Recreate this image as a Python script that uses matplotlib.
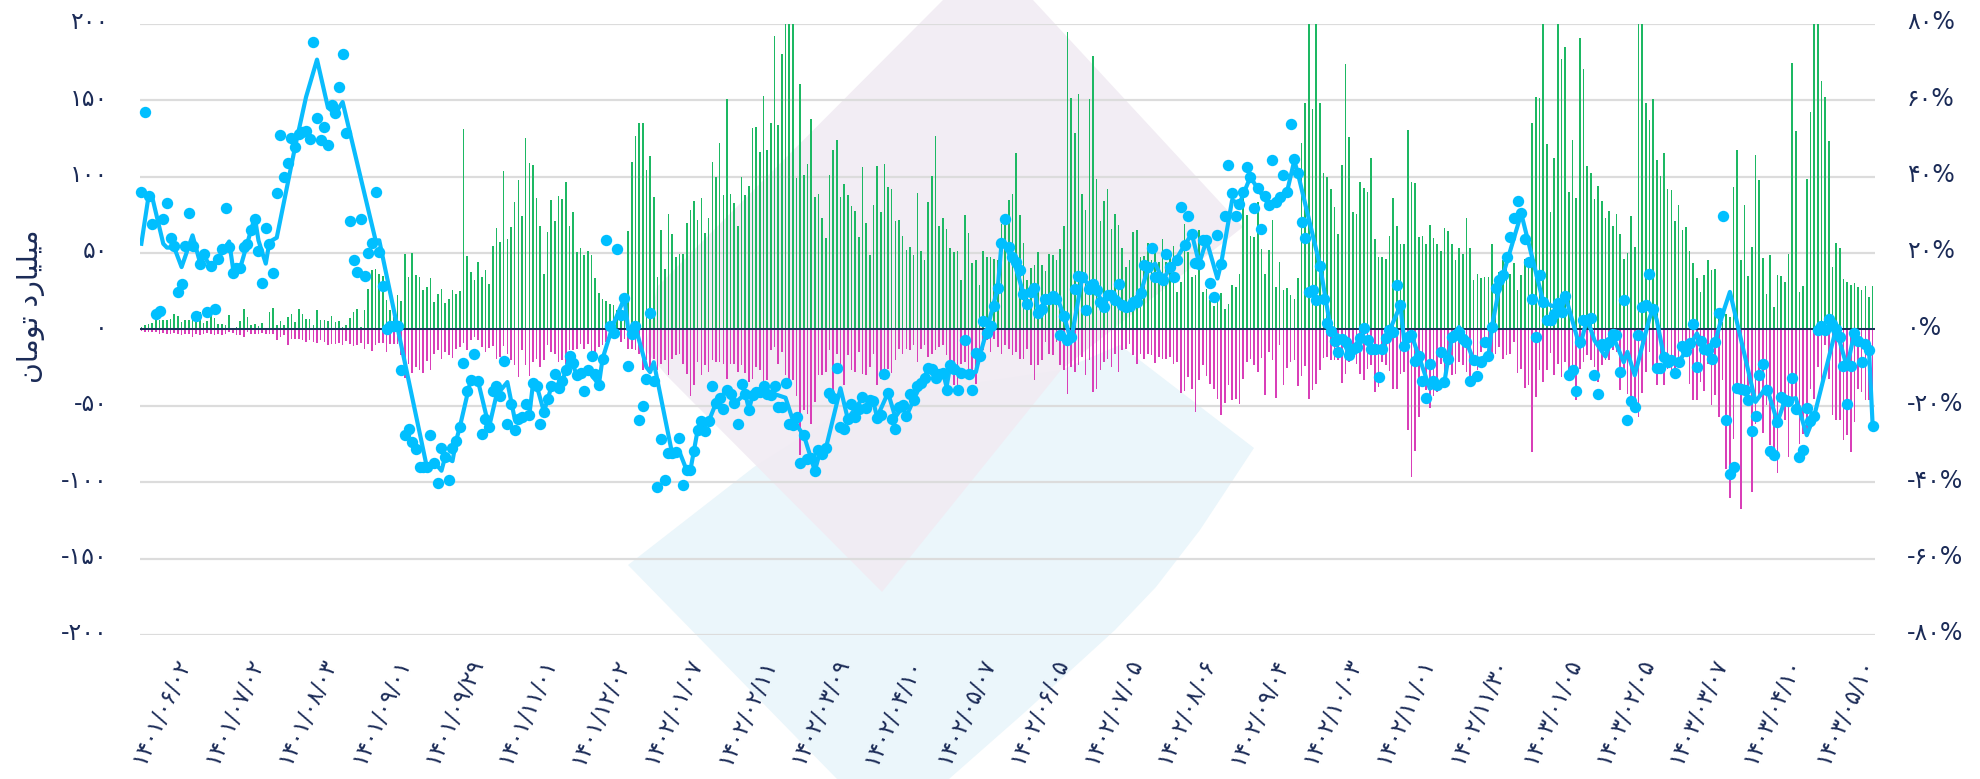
import matplotlib
matplotlib.use("Agg")
import matplotlib.pyplot as plt
from matplotlib.patches import Polygon
from matplotlib.transforms import ScaledTranslation
import numpy as np

W, H = 1981, 779
NAVY = "#1b2b57"

# میلیارد تومان values, green bars
pos_bars = [
    1.5,2.9,3.7,4.1,6.3,5.9,6.3,6.3,7,10.3,9,4.8,6.3,5.9,7.6,5.4,11.4,4.1,5.4,10.3,
    7.6,3.7,3.3,3.1,9.2,0.4,1.5,5.5,13.5,8,2.6,3.7,2,4.4,1.1,11.4,14.2,2.6,5.4,2.6,
    8,9.8,4.8,13.5,9.8,7,7,2.6,12.9,5.9,6.3,5.4,8.5,4.8,5.2,1.5,2.6,7.6,11.4,13.5,
    1.5,12.4,26.6,38.6,39.5,36.2,35.1,19,12.4,8,22.3,18.5,49,34,50,35.8,34,26,27.7,33.6,
    17.9,23,26.6,17,19.9,26,23,24.8,131,47.8,37.6,32,44,34,39,29.5,54.4,66,57,
    103.3,59.4,67,83.4,98,74.4,124.9,109,107.4,86,67.7,36.5,63.5,84.9,71,87.1,85.1,96.7,67.9,77,
    50.4,53.3,48.5,51.3,48.7,33.4,23.8,20,18.6,16.6,16.2,12.4,12.4,11.4,64.6,109.6,126.4,135.3,135.3,104.1,
    113.5,86.9,34.3,64.8,39.7,75.5,62.4,47.4,49.6,49.1,69.6,77.9,84.3,71.4,86.2,63.1,72.9,109.2,99.8,122.2,
    88.2,151,88.4,82.7,67.7,99.5,87.8,93.9,131.9,132.5,115.9,152.4,117.2,135.3,191.9,134,180.1,210,210,210,
    99.3,160.5,100.9,108.3,137.5,86.9,88.8,73.1,59.8,101.3,117.2,124.2,86.9,95.4,88.2,80.6,77.5,60.3,106.5,69.9,
    48.5,81.4,107,76.6,108.5,93.4,92.1,70.7,71.8,61.1,51.7,53.9,48.9,89.5,51.3,45.2,83.6,100.6,126.6,67.9,
    72.9,65.7,53.3,50.4,51.1,32.1,75.1,63.3,43.7,45.6,28.8,51.3,47.4,47.4,46.3,45.2,
    69.2,70.3,84.5,88.8,115.7,75.1,56.3,32.1,40.4,41.9,50.6,41.9,38.2,49.6,48.5,45.2,52.8,67.9,194.5,151.7,
    128.6,154.3,88.4,78.4,151,178.8,98.2,70.7,83.8,92.1,65.5,75.3,68.1,53.3,40.8,45.2,63.7,64.8,47.4,47.8,
    56.5,45.2,52.4,44.1,59.4,44.1,49.6,54.4,24.2,31.2,68.8,50.6,34.3,35.4,64.8,24.4,26.6,19,15.5,17.7,
    23.8,13.5,16.8,29.3,27.7,36,87.8,74.7,60.9,60.5,83.4,52.4,36.5,51.7,71.8,27.7,44.1,25.5,27.3,22.3,
    19.6,33.8,122.2,148.4,199.7,144.5,210,147.8,102.2,99.8,91.7,80.1,62.7,107.8,173.5,125.7,76.8,75.3,96.5,92.8,
    89.9,112.4,59.4,47.4,47.2,46.1,60.9,85.8,67.7,55.7,56.1,130.3,96.7,95.6,60.7,60.9,56.1,68.1,59.8,55.9,
    51.3,66.6,64.4,56.1,45.2,53.3,49.6,73.1,53.5,32.1,36,33.8,34.3,34.3,56.1,
    34.3,37.5,45.2,44.1,36.5,43.4,25.5,35.6,46.3,40.8,134.7,151.9,151.5,210,121.6,76.6,111.8,210,176.6,184.7,
    89.9,123.8,85.8,190.4,170.5,107.2,102.2,85.6,94.1,83.8,72.7,77.7,67.7,75.8,62.4,45.8,50,74.4,53.7,210,
    210,148.2,136.7,150.8,111.1,100.4,115.7,91.7,91,70.7,81.2,64.8,66.8,51.1,43.2,33.8,24.4,35.6,45.4,38.6,
    39.5,13.5,4.8,10.3,8.1,93,117.4,45.6,81.4,35.1,54.1,114,97.6,46.9,23.4,48.5,14.4,35.8,34.7,31,
    49.1,174.4,129.5,24.2,28.6,98.2,141.9,210,210,162.6,151.9,123.1,40.8,56.8,53.3,33,31.2,28.8,30.6,27.5,
    25.5,28.6,21,28.2,
]

# magenta bars (size of the negative side)
neg_bars = [
    1,1.5,2,1.5,2,3,2.5,3,3,2.5,3,4,3,3,5,3,3.5,3,2.5,3,
    4,3,3.5,3,2,2.5,4,3.5,5,2,3,3,3,2.5,3,3,3,7,5,4,
    10,6,6,6,7,8,7,8,9,7,8,10,
    9.8,9.4,9,10,7.6,9.4,11.1,10,8.7,12.7,9.8,14.2,10.5,9,9,14.8,9.4,9.8,9.4,17,
    31.7,22.5,28.4,24.7,26.4,28.4,20.7,26.9,15.9,13.8,19.6,14.8,17,18.6,12.7,11.6,9,13.8,7.2,5,
    7.2,11.6,14.8,12,11.1,19.2,18.1,11.1,15.9,20.3,23.6,31.2,13.8,23.6,30.6,21.4,19.2,24.7,20.3,10.5,
    14.8,15.9,21.4,20.3,22.5,13.8,13.8,12.7,9.4,12.7,9.4,15.9,15.9,11.6,10.5,8.3,5,6.1,5,8.3,
    6.1,12.7,12.7,13.8,15.9,26.9,20.3,26.9,19.2,26.9,22.5,20.3,30.1,19.2,17,15.9,22.5,29,43.9,36.7,
    21.4,30.1,23.6,27.9,20.3,21.4,21.4,22.5,32.3,22.5,22.5,27.9,23.6,28.6,34.5,32.3,24.7,26.9,35.6,33.4,
    13.8,11.6,22.5,14.8,30.1,32.3,33.4,43.9,82.5,53,55.2,61.8,47.6,30.1,30.1,27.9,13.8,39.9,15.9,24.7,
    36.7,17,26.9,27.9,14.8,29,30.1,24.7,15.9,36.7,32.3,26.9,25.8,28.6,20.3,12.7,15.9,12.7,13.8,10.5,
    21.4,12.7,10.5,18.1,15.9,13.8,11.6,10.5,17,20.3,36.7,36.7,22.5,21.4,27.9,27.9,35.6,18.1,13.8,7.2,
    14.8,6.1,11.6,15.9,10.5,12.7,17,14.8,19.2,19.2,12.7,23.6,33.4,23.6,20.3,8.3,15.9,17,8.3,23.6,
    26.9,42.1,24.7,27.9,23.6,18.1,30.1,20.3,41,38.9,26.9,21.4,19.2,24.7,15.9,27.9,13.8,12.7,9.4,17,
    22.5,15.9,19.2,15.9,17,22,18.1,19.2,19.2,18.1,22.5,21.4,41.7,40.4,31.2,38.9,54.1,33,23.6,30.8,
    35.6,38.9,45.4,56.3,48.2,36.7,46.5,45.4,48.7,32.3,21.4,19.2,23.6,27.9,18.6,43.2,14.8,20.3,44.8,10.5,
    36.7,25.3,21.4,20.3,37.1,30.8,24.2,45.4,39.5,36,26.9,18.6,18.1,20.3,20.3,20.3,35.1,29,21.4,17,
    22.5,29.5,33,25.8,23.6,41,37.8,21.4,23.6,27.3,38.9,38.9,29,27.9,66.1,96.3,79.9,57.4,24.7,39.9,
    51.5,43.9,41,22.5,30.1,20.3,30.1,29,21.4,23.6,27.9,35.6,22.5,26.9,14.8,11.6,6.1,15.9,15.9,11.6,
    19.2,17,15.9,8.3,28.4,25.8,38.4,36.7,80.3,44.3,26.9,34.5,26.9,
    15.5,30.1,22.5,31.2,21.4,30.1,32.3,46.5,25.8,21.4,17,20.3,24.7,34.5,23.6,20.3,20.3,13.8,14.8,39.9,
    26.9,42.1,45.4,49.8,57.4,41.7,27.9,14.8,25.8,36.7,19.2,36.7,25.8,27.9,31.2,24.7,15.9,14.8,35.6,46.1,
    46.1,34.5,40.4,22.5,49.8,43.2,57.4,33,91.2,110.2,72,39.9,117.4,43.2,44.3,106.5,61.8,43.2,67.9,49.8,
    76,83.6,94.1,43.2,59.6,83.6,46.5,55.2,74.9,68.3,70.5,38.9,45.4,24.7,35.6,10.5,32.3,56.3,59.6,59.6,
    72.3,69.4,80.3,60.7,38.9,41,46.5,46.5,63.1,
]

# percent points (right axis)
dots_pct = [
    36,57,35,27.5,4,4.8,29,33.2,24,21.7,9.8,12,21.7,30.5,21.7,3.4,17.2,19.8,4.5,16.5,
    5.2,18.5,20.9,31.7,21.5,14.8,16,16,21.5,22.3,26,29,20.5,12.2,26.4,22.4,14.7,35.8,50.8,39.9,
    43.6,50,47.7,51,51.6,52,49.7,75.1,55.4,49.5,53,48.2,58.6,56.7,63.5,72.2,51.4,28.3,18.2,15,
    29,14,20,22.7,36,20.2,11.3,0.2,1,1,0.8,
    -10.7,-27.6,-26.2,-29.5,-31.2,-36,-36,-36,-27.6,-35,-40.2,-31,-33.4,-39.3,-31,-29.2,-25.6,-8.8,-16.2,
    -13.2,-6.4,-13.6,-27.3,-23.5,-25.6,-16.2,-14.9,-17.5,-8.3,-24.7,-19.5,-26.4,-23.4,-23,-19.5,-22.5,-14,-14.7,-24.7,
    -21.6,-18.1,-14.9,-11.8,-15.4,-13.6,-10.6,-7.1,-8.8,-12,-11.4,-16.1,-10.7,-6.9,-11.8,-14.5,-7.7,
    23.3,1,-1,21.1,3.7,8.2,-9.7,-1.3,1,-23.6,-20,-13,4.2,-13.5,-41.3,-28.7,-39.4,-32.4,-32.4,-32.2,
    -28.4,-40.7,-36.7,-36.9,-31.9,-26.3,-24.1,-26.7,-24.1,-14.7,-19.3,-17.9,-20.9,-16,-17,-19.3,-24.9,-14.4,-16.8,-21,
    -17.3,-16.4,-16.4,-14.9,-17,-17.3,-14.7,-20.2,-20.2,-14,-24.7,-25.1,-23,-34.9,-27.7,-33.9,-33.6,-37.1,-31.5,-32.7,
    -31,-16.6,-17.9,-10.1,-25.6,-26,-23.4,-19.5,-23,-20.8,-17.7,-20.5,-18.6,-18.8,-23.1,-22.3,-11.6,-16.6,-23.4,-26.2,
    -20.2,-19.9,-22.8,-16.8,-18.4,-14.8,-14,-12.7,-10.1,-10.3,-12.7,-11.6,-11.3,-15.8,-9.4,-10.3,-16,-11.3,-2.7,-11.6,
    -15.8,-6.1,-7.1,2.1,-1,1,6.1,10.9,22.5,
    29,21.5,19,17.6,15.6,9.2,6.7,9.8,10.9,4.3,5.4,8,8,8.6,8,-1.4,3.4,-2.9,-2,10.6,
    13.9,13.7,5,10.6,11.8,10.2,7.2,5.8,8.9,8.9,7.6,11.8,6.3,5.8,6,7.2,7.2,9.5,16.8,16.3,
    21.4,13.7,13.7,12.8,19.8,16.3,13.7,18.1,32,22,29.6,25,17.4,17,23.3,23.5,12.2,8.5,24.8,17.2,
    29.6,43.1,35.7,29.7,32.7,36,42.5,39.9,31.8,37.1,26.2,34.8,32.6,44.4,33.3,34.6,40.3,36,53.8,44.7,
    40.9,28.2,23.8,9.8,10.2,7.6,16.5,7.9,1.7,-0.5,
    -3.1,-5.9,-2.4,-3.3,-6.6,-5.1,-4.5,-2.3,0.4,-2.9,-5.1,-5.1,-12.5,-5.1,-2.2,-0.3,-0.7,11.5,6.3,-4.4,
    -2,-1.4,-8.3,-7,-13.4,-17.9,-9,-13.4,-14.5,-5.8,-13.8,-7.7,-2,-1.6,-0.7,-2.4,-3.3,-13.4,-8.1,-12.2,
    -8.6,-3.4,-7.1,0.6,10.9,13,14.1,18.9,24.2,29.1,33.5,30.5,23.7,17.5,8,
    -1.9,14.1,7.2,2.4,2.4,4.1,6.9,4.5,8.7,
    -12,-10.6,-16.1,-3.3,2.4,2.5,3,-12,-16.8,-3.8,-4.2,-3.3,-1.3,-1.6,-11.2,7.6,-23.6,-18.8,-20.2,-1.6,
    5.8,6.3,14.4,5.4,-10.1,-10.1,-7.2,-8.5,-8.1,-11.4,-8.5,-4.4,-5.7,-3.5,1.3,-9.9,-3.1,-5.1,-5.5,-7.7,
    -3.3,4.3,29.7,-23.6,-37.9,-36.1,-15.4,-15.7,-15.8,-18.6,-26.7,-22.6,-12,-9.2,-15.8,-31.9,-32.8,-24.3,-17.7,-18.6,
    -18.8,-12.7,-20.8,-33.4,-31.5,-20.5,-24.1,-22.8,-0.3,1,-0.3,2.8,1.5,0.2,-2,-9.6,-19.6,-9.6,-1,-3.1,
    -8.6,-3.8,-5.3,-25.2,
]

# line, read at its visible vertices
line_idx = [
    0,2,3,6,7,9,11,14,16,17,19,20,24,25,27,30,31,32,34,35,37,42,45,48,51,53,55,64,65,70,
    78,80,82,83,85,86,87,90,92,95,97,100,102,106,107,108,110,112,115,117,119,122,125,126,129,132,133,135,
    138,139,140,145,147,149,150,152,155,157,158,160,162,165,166,167,170,
    176,178,181,184,185,187,191,193,197,200,201,204,206,208,209,211,215,217,219,220,221,225,228,229,231,234,
    235,236,239,241,244,245,247,250,252,254,257,261,263,264,267,269,273,275,277,279,282,285,287,289,291,
    294,295,298,300,303,305,308,313,315,316,322,325,
    328,330,333,335,336,339,341,344,345,347,349,352,356,358,360,362,364,368,369,371,377,383,388,389,
    393,395,397,400,402,405,406,408,412,413,414,416,420,422,425,427,430,432,434,441,444,447,449,452,455,457,463,466,468,472,473,
]
line_pct = [
    22.4,35,34.5,22.4,21.4,21.4,16.3,24.6,17.6,19.4,16.3,17.2,23,16.3,16,26,29.4,23.3,17.2,22.9,24,47.7,60.8,70.6,58,56.5,59.5,23.3,23.3,0.4,
    -36,-34.7,-37,-33.4,-34.5,-29.2,-25.6,-13.2,-13.6,-25.6,-17.3,-13.8,-23.4,-22.5,-14.2,-14.7,-21.6,-15.1,-13.8,-7.1,-12,-10.6,-14.5,-7.7,1.5,8.2,0,0.6,
    -9.9,-11.2,-8.6,-32.4,-32,-36.9,-36.9,-26.3,-24.1,-19.3,-17.9,-16,-19.5,-16.8,-21,-17.3,-16,
    -17.9,-23.8,-27.7,-37,-33.6,-31.2,-15.4,-23.4,-18.1,-19,-23,-16.6,-23,-20.2,-22.8,-18.4,-10.3,-12.7,-11.2,-15.1,-9.4,-11.2,-11.2,-7.1,-0.3,11,
    22.4,22,15.9,9.3,10.9,4.3,7.6,8.9,3.7,-2.9,13.3,10.2,5.8,8.9,8,5.8,9.5,15.9,17.2,13,17.2,22,25,17.2,23.3,
    13.3,17.2,33.8,32.9,39.9,36.8,32.7,36,44.2,40.7,16.8,-0.3,
    -2.4,-6.6,-2.3,-2.9,-5,-5,-0.3,6.3,-3,-1.4,-7,-15.5,-13.8,-2,0.6,-3.3,-8.1,-7.1,0.8,11,30.3,7.2,5,8.9,
    -4.6,2.8,-2.9,-7.1,-1.6,-8.6,-5.9,-12,2.8,5.4,2.5,-7.2,-8.5,-5.7,-1.1,-5.1,-3.3,4,9.8,-19,-15,-24.3,-18.6,-18,-27.7,-22.8,0.2,-9.9,-1,-5.3,-25.2,
]

y_ticks = [-200, -150, -100, -50, 0, 50, 100, 150, 200]
y_labels = ["-۲۰۰", "-۱۵۰", "-۱۰۰", "-۵۰", "۰", "۵۰", "۱۰۰", "۱۵۰", "۲۰۰"]
pct_ticks = [-80, -60, -40, -20, 0, 20, 40, 60, 80]
pct_labels = ["-۸۰%", "-۶۰%", "-۴۰%", "-۲۰%", "۰%", "۲۰%", "۴۰%", "۶۰%", "۸۰%"]
date_labels = [
    "۱۴۰۱/۰۶/۰۲", "۱۴۰۱/۰۷/۰۲", "۱۴۰۱/۰۸/۰۳", "۱۴۰۱/۰۹/۰۱", "۱۴۰۱/۰۹/۲۹", "۱۴۰۱/۱۱/۰۱",
    "۱۴۰۱/۱۲/۰۲", "۱۴۰۲/۰۱/۰۷", "۱۴۰۲/۰۲/۱۱", "۱۴۰۲/۰۳/۰۹", "۱۴۰۲/۰۴/۱۰", "۱۴۰۲/۰۵/۰۷",
    "۱۴۰۲/۰۶/۰۵", "۱۴۰۲/۰۷/۰۵", "۱۴۰۲/۰۸/۰۶", "۱۴۰۲/۰۹/۰۴", "۱۴۰۲/۱۰/۰۳", "۱۴۰۲/۱۱/۰۱",
    "۱۴۰۲/۱۱/۳۰", "۱۴۰۳/۰۱/۰۵", "۱۴۰۳/۰۲/۰۵", "۱۴۰۳/۰۳/۰۷", "۱۴۰۳/۰۴/۱۰", "۱۴۰۳/۰۵/۱۰",
]
# shaped by hand, matplotlib has no arabic shaping
y_title = "\uFEE5\uFE8E\uFEE3\uFEEE\uFE97 \uFEA9\uFEAD\uFE8E\uFEF4\uFEE0\uFEF4\uFEE3"

plt.rcParams["font.family"] = ["DejaVu Sans"]
fig = plt.figure(figsize=(W / 100, H / 100), dpi=100, facecolor="white")


def px(points):
    return [(x / W, 1 - y / H) for x, y in points]


# faint background logo shapes
fig.add_artist(Polygon(px([(628, 565), (754, 467), (860, 400), (1061, 370), (1120, 345), (1254, 448),
                           (1200, 530), (1156, 587), (1115, 630), (1024, 713), (949, 779), (837, 779)]),
                       closed=True, facecolor="#ebf6fb", edgecolor="none", transform=fig.transFigure, zorder=-2))
fig.add_artist(Polygon(px([(943, 0), (657, 287), (645, 350), (668, 377), (882, 592), (1061, 370), (1243, 227), (1033, 0)]),
                       closed=True, facecolor="#f1ebf3", edgecolor="none", alpha=0.9,
                       transform=fig.transFigure, zorder=-1))

ax = fig.add_axes([140 / W, 1 - 635 / H, (1875 - 140) / W, (635 - 23.7) / H])
ax.patch.set_alpha(0)
x = np.arange(len(pos_bars))
ax.set_xlim(-0.36, 473.64)
ax.set_ylim(-200, 200)
ax.set_yticks(y_ticks)
ax.set_yticklabels(y_labels, fontsize=17, color=NAVY)
ax.grid(axis="y", color="#dcdcdc", lw=1.6, zorder=0)
ax.set_axisbelow(True)
for s in ax.spines.values():
    s.set_visible(False)
ax.tick_params(axis="y", length=0, pad=23)
ax.tick_params(axis="x", length=0, pad=14)
ax.bar(x, pos_bars, width=0.44, color="#1db863", zorder=2)
ax.bar(x, -np.array(neg_bars), width=0.44, color="#d93fb8", zorder=2)
ax.axhline(0, color=NAVY, lw=1.4, zorder=3)
ax.set_xticks(np.arange(13, 474, 20))
ax.set_xticklabels(date_labels, fontsize=16.5, color=NAVY, rotation=66, ha="right", rotation_mode="anchor")
ax.text(31 / W, 1 - 306 / H, y_title, transform=fig.transFigure, rotation=90, fontsize=20.5, color=NAVY,
        ha="center", va="center")

ax2 = ax.twinx()
ax2.patch.set_alpha(0)
ax2.set_ylim(-80, 80)
ax2.set_yticks(pct_ticks)
ax2.set_yticklabels(pct_labels, fontsize=17, color=NAVY)
ax2.tick_params(axis="y", length=0, pad=23)
for s in ax2.spines.values():
    s.set_visible(False)
ax2.plot(line_idx, line_pct, color="#0abcfd", lw=3, solid_joinstyle="round", zorder=4)
ax2.plot(x, dots_pct, ls="none", marker="o", ms=8.2, color="#00bfff", mec="none", zorder=5, clip_on=False)

# labels sit a few pixels above their gridlines
lift = ScaledTranslation(0, 4 / 100, fig.dpi_scale_trans)
for t in ax.get_yticklabels() + ax2.get_yticklabels():
    t.set_transform(t.get_transform() + lift)
nudge = ScaledTranslation(-15 / 100, 0, fig.dpi_scale_trans)
for t in ax.get_xticklabels():
    t.set_transform(t.get_transform() + nudge)

fig.savefig("out.png", dpi=100)
